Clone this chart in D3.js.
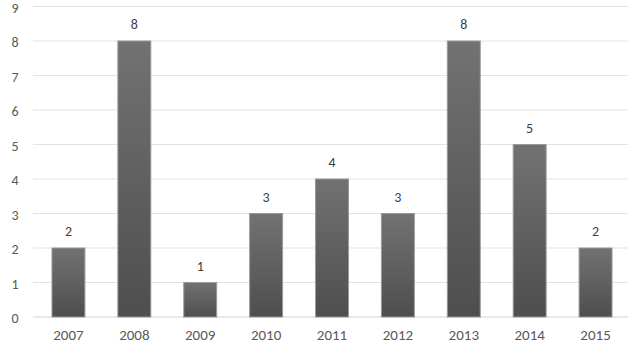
<!DOCTYPE html>
<html>
<head>
<meta charset="utf-8">
<script src="https://cdn.jsdelivr.net/npm/d3@7"></script>
<style>
  body { margin: 0; background: white; }
  text { font-family: Calibri, Carlito, "Open Sans", sans-serif; }
</style>
</head>
<body>
<div id="container"></div>
<script>
let years = ["2007", "2008", "2009", "2010", "2011", "2012", "2013", "2014", "2015"];
let counts = [2, 8, 1, 3, 4, 3, 8, 5, 2];
let yTicks = [0, 1, 2, 3, 4, 5, 6, 7, 8, 9];

let w = 638;
let h = 351;

let viz = d3.select("#container").append("svg")
    .attr("width", w)
    .attr("height", h)
    .style("background-color", "white");

let defs = viz.append("defs");
let grad = defs.append("linearGradient")
    .attr("id", "barGrad")
    .attr("x1", 0).attr("y1", 0).attr("x2", 0).attr("y2", 1);
grad.append("stop").attr("offset", "0%").attr("stop-color", "#727272");
grad.append("stop").attr("offset", "100%").attr("stop-color", "#4e4e4e");

let xScale = d3.scaleBand().domain(years).range([35.5, 628.5]).paddingInner(0.5).paddingOuter(0.25);
let yScale = d3.scaleLinear().domain([0, 9]).range([317, 6.5]);

// gridlines
viz.append("g")
  .selectAll("line")
  .data(yTicks)
  .enter()
  .append("line")
    .attr("x1", 33)
    .attr("x2", 628)
    .attr("y1", d => yScale(d))
    .attr("y2", d => yScale(d))
    .attr("stroke", d => d === 0 ? "#d4d4d4" : "#e3e3e3")
    .attr("stroke-width", 1.2);

// y labels (nudged down a little so the top "9" stays inside)
let yAxis = d3.axisLeft(yScale).tickValues(yTicks).tickSize(0).tickPadding(0);
let yg = viz.append("g").attr("transform", "translate(15,1.5)").call(yAxis);
yg.select(".domain").remove();
yg.selectAll("text")
  .attr("text-anchor", "middle")
  .attr("fill", "#595959")
  .style("font-size", "14px");

// x labels
let xAxis = d3.axisBottom(xScale).tickSize(0).tickPadding(0);
let xg = viz.append("g").attr("transform", "translate(0,329)").call(xAxis);
xg.select(".domain").remove();
xg.selectAll("text")
  .attr("fill", "#595959")
  .style("font-size", "15px");

// bars
let groupelements = viz.selectAll(".datagroup").data(years)
  .enter()
  .append("g")
  .attr("class", "datagroup");

groupelements.append("rect")
  .attr("x", d => xScale(d))
  .attr("width", xScale.bandwidth())
  .attr("y", (d, i) => yScale(counts[i]))
  .attr("height", (d, i) => yScale(0) - yScale(counts[i]))
  .attr("fill", "url(#barGrad)")
  .attr("stroke", "#9a9a9a")
  .attr("stroke-width", 1);

groupelements.append("text")
  .attr("x", d => xScale(d) + xScale.bandwidth() / 2)
  .attr("y", (d, i) => yScale(counts[i]) - 12)
  .attr("text-anchor", "middle")
  .attr("fill", "#404040")
  .style("font-size", "14px")
  .text((d, i) => counts[i]);
</script>
</body>
</html>
